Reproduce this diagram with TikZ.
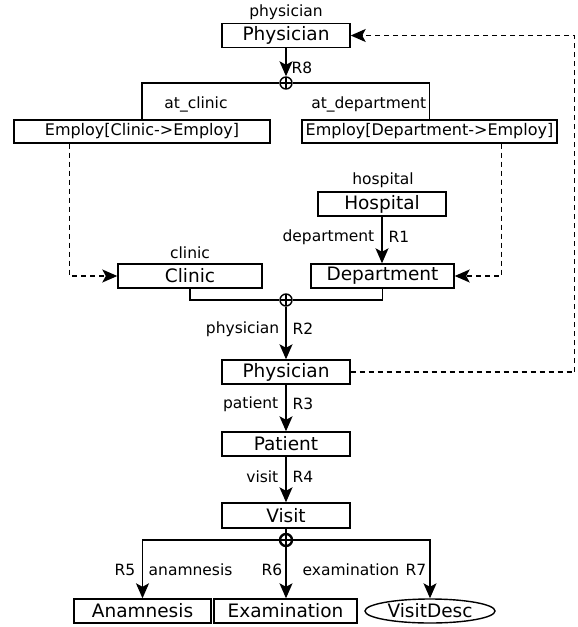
\documentclass[tikz,border=0pt]{standalone}
\usepackage{fontspec}
\setmainfont{DejaVu Sans}
\usetikzlibrary{arrows.meta,shapes.geometric}
\begin{document}
\begin{tikzpicture}[x=1pt,y=-1pt,
  line width=1.4pt,
  box/.style={draw,rectangle,inner sep=0pt,font=\fontsize{18.5}{20}\selectfont},
  ebox/.style={draw,rectangle,inner sep=0pt,minimum height=23pt,font=\fontsize{16}{18}\selectfont},
  lbl/.style={inner sep=0pt,font=\fontsize{15.5}{17}\selectfont},
  arr/.style={-{Stealth[length=15pt,width=13pt,inset=3.5pt]}},
  darr/.style={dash pattern=on 5pt off 4pt,-{Stealth[length=15pt,width=13pt,inset=3.5pt]}},
  dline/.style={dash pattern=on 5pt off 4pt},
  oplus/.style={draw,circle,inner sep=0pt,minimum size=12pt,
    path picture={\draw[line width=1.2pt] (path picture bounding box.north) -- (path picture bounding box.south)
      (path picture bounding box.west) -- (path picture bounding box.east);}}
]
\useasboundingbox (0,0) rectangle (578,627);

% boxes
\node[box,minimum width=128pt,minimum height=23.5pt] (phys1) at (286,35.5) {Physician};
\node[lbl] (lphys1) at (286,12) {physician};
\node[ebox,minimum width=256pt] (empC) at (142,131.5) {Employ[Clinic->Employ]};
\node[ebox,minimum width=255pt] (empD) at (429.5,131.5) {Employ[Department->Employ]};
\node[box,minimum width=128pt,minimum height=24pt] (hosp) at (382,204) {Hospital};
\node[lbl] (lhosp) at (383,180) {hospital};
\node[box,minimum width=144pt,minimum height=24pt] (clinic) at (190,276) {Clinic};
\node[lbl] (lclinic) at (190,253) {clinic};
\node[box,minimum width=143pt,minimum height=24pt] (dept) at (382.5,276) {Department};
\node[box,minimum width=128pt,minimum height=24pt] (phys2) at (286,372) {Physician};
\node[box,minimum width=128pt,minimum height=24pt] (patient) at (286,444) {Patient};
\node[box,minimum width=128pt,minimum height=25pt] (visit) at (286,515.5) {Visit};
\node[box,minimum width=137pt,minimum height=24pt] (anam) at (142.5,611) {Anamnesis};
\node[box,minimum width=143pt,minimum height=24pt] (exam) at (285.5,611) {Examination};
\node[box,ellipse,minimum width=130pt,minimum height=24pt] (vdesc) at (430,611) {VisitDesc};

% junctions
\node[oplus] (c8) at (286,83) {};
\node[oplus] (c2) at (286,300) {};
\node[oplus,line width=2.4pt] (c5) at (286,540) {};

% top tree
\draw[arr] (phys1.south) -- (c8.north);
\node[lbl,anchor=west] (lR8) at (291,68) {R8};
\draw (c8.west) -| (empC.north);
\draw (c8.east) -| (empD.north);
\node[lbl] (latc) at (196,104) {at\_clinic};
\node[lbl,anchor=east] (latd) at (427,104) {at\_department};

% dashed refs
\coordinate (eC) at ([xshift=56pt]empC.south west);
\draw[darr] (eC) |- (clinic.west);
\coordinate (eD) at ([xshift=200pt]empD.south west);
\draw[darr] (eD) |- (dept.east);

% hospital
\draw[arr] (hosp.south) -- (hosp.south |- dept.north);
\node[lbl,anchor=east] (ldept) at (375,237) {department};
\node[lbl,anchor=west] (lR1) at (388,237) {R1};

% clinic/department join
\draw (clinic.south) |- (c2.west);
\draw (c2.east) -| (dept.south);
\draw[arr] (c2.south) -- (phys2.north);
\node[lbl,anchor=east] (lphys2) at (280,329) {physician};
\node[lbl,anchor=west] (lR2) at (292,329) {R2};

% physician back link
\coordinate (pr) at ([xshift=224pt]phys2.east);
\draw[dline] (phys2.east) -- (pr);
\draw[darr] (pr) |- (phys1.east);

% chain
\draw[arr] (phys2.south) -- (patient.north);
\node[lbl,anchor=east] (lpat) at (279,404) {patient};
\node[lbl,anchor=west] (lR3) at (292,404) {R3};
\draw[arr] (patient.south) -- (visit.north);
\node[lbl,anchor=east] (lvis) at (279,477) {visit};
\node[lbl,anchor=west] (lR4) at (292,477) {R4};

% visit split
\draw (visit.south) -- (c5.north);
\draw[arr] (c5.west) -| (anam.north);
\draw[arr] (c5.south) -- (c5.south |- exam.north);
\draw[arr] (c5.east) -| (vdesc.north);
\node[lbl,anchor=east] (lR5) at (136,570) {R5};
\node[lbl,anchor=west] (lan) at (148,570) {anamnesis};
\node[lbl,anchor=east] (lR6) at (283,570) {R6};
\node[lbl,anchor=west] (lex) at (302,570) {examination};
\node[lbl,anchor=east] (lR7) at (427,570) {R7};
\end{tikzpicture}
\end{document}
